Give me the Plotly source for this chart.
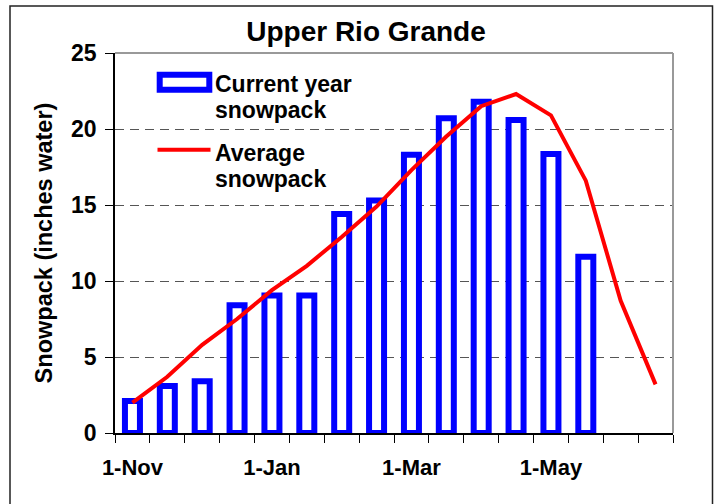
import plotly.graph_objects as go

# ---- data ----
dates = ["1-Nov", "15-Nov", "1-Dec", "15-Dec", "1-Jan", "15-Jan", "1-Feb", "15-Feb",
         "1-Mar", "15-Mar", "1-Apr", "15-Apr", "1-May", "15-May", "1-Jun", "15-Jun"]
current_year = [2.1, 3.1, 3.4, 8.4, 9.05, 9.05, 14.4, 15.3, 18.3, 20.7, 21.8, 20.6, 18.35, 11.6]
average = [2.0, 3.7, 5.8, 7.5, 9.4, 11.0, 12.9, 14.9, 17.3, 19.5, 21.5, 22.3, 20.9, 16.6, 8.7, 3.2]
labeled_ticks = ["1-Nov", "1-Jan", "1-Mar", "1-May"]
y_ticks = [0, 5, 10, 15, 20, 25]

title_text = "Upper Rio Grande"
y_title = "Snowpack (inches water)"
legend_bar = ["Current year", "snowpack"]
legend_line = ["Average", "snowpack"]

# ---- geometry helpers (pixel -> paper) ----
W, H = 715, 504
L, R, T, B = 115, 673, 53, 433


def px(x):
    return (x - L) / (R - L)


def py(y):
    return (B - y) / (B - T)


FONT = "Liberation Sans, Arial, sans-serif"
BLUE = "#0000FF"
RED = "#FF0000"

xpos = list(range(len(dates)))

fig = go.Figure()
fig.add_trace(go.Bar(
    x=xpos[:len(current_year)], y=current_year, width=0.43,
    marker=dict(color="white", line=dict(color=BLUE, width=6)),
    name="Current year snowpack", showlegend=False,
))
fig.add_trace(go.Scatter(
    x=xpos, y=average, mode="lines",
    line=dict(color=RED, width=4),
    name="Average snowpack", showlegend=False,
))

shapes = []
# outer chart border
shapes.append(dict(type="rect", xref="paper", yref="paper",
                   x0=px(10), x1=px(712.5), y0=py(515), y1=py(6),
                   line=dict(color="#222", width=1.5), fillcolor="rgba(0,0,0,0)", layer="above"))
# top and right plot-area border (gray)
shapes.append(dict(type="line", xref="paper", yref="paper", x0=0, x1=1, y0=1, y1=1,
                   line=dict(color="#999999", width=2), layer="above"))
shapes.append(dict(type="line", xref="paper", yref="paper", x0=1, x1=1, y0=0, y1=1,
                   line=dict(color="#999999", width=2), layer="above"))
# legend background hiding gridline
shapes.append(dict(type="rect", xref="paper", yref="paper",
                   x0=px(116), x1=px(391), y0=py(198), y1=py(58),
                   line=dict(width=0), fillcolor="white", layer="between"))
# legend swatches
shapes.append(dict(type="rect", xref="paper", yref="paper",
                   x0=px(159.7), x1=px(209.3), y0=py(89.7), y1=py(74.7),
                   line=dict(color=BLUE, width=6), fillcolor="white", layer="above"))
shapes.append(dict(type="line", xref="paper", yref="paper",
                   x0=px(157.5), x1=px(210.5), y0=py(149.7), y1=py(149.7),
                   line=dict(color=RED, width=4), layer="above"))

annotations = []
for txt, yy in [(legend_bar[0], 84), (legend_bar[1], 110), (legend_line[0], 153), (legend_line[1], 178.5)]:
    annotations.append(dict(text=txt, xref="paper", yref="paper", x=px(213), y=py(yy),
                            xanchor="left", yanchor="middle", showarrow=False,
                            font=dict(family=FONT, size=23, color="black", weight="bold")))

fig.update_layout(
    width=W, height=H,
    margin=dict(l=L, r=W - R, t=T, b=H - B),
    paper_bgcolor="white", plot_bgcolor="white",
    title=dict(text=title_text, x=366 / W, xref="container", xanchor="center",
               y=1 - 31 / H, yref="container", yanchor="middle",
               font=dict(family=FONT, size=28, color="black", weight="bold")),
    shapes=shapes,
    annotations=annotations,
    showlegend=False,
)
fig.update_xaxes(
    range=[-0.5, len(dates) - 0.5],
    tickmode="array", tickvals=[dates.index(d) for d in labeled_ticks], ticktext=labeled_ticks,
    ticks="outside", ticklen=8, tickcolor="rgba(0,0,0,0)", ticklabelstandoff=6,
    tickfont=dict(family=FONT, size=22, color="black", weight="bold"),
    showline=True, linecolor="black", linewidth=1.5,
    showgrid=False, zeroline=False,
    minor=dict(tick0=-0.5, dtick=1, ticks="outside", ticklen=8, tickcolor="black", tickwidth=1, showgrid=False),
)
fig.update_yaxes(
    range=[0, 25], tickmode="array", tickvals=y_ticks,
    ticks="outside", ticklen=8, tickcolor="black", tickwidth=1,
    tickfont=dict(family=FONT, size=23, color="black", weight="bold"),
    ticklabelstandoff=4,
    showline=True, linecolor="black", linewidth=1.5,
    showgrid=True, gridcolor="#555555", gridwidth=1, griddash="9px,6px",
    zeroline=False,
    title=dict(text=y_title, font=dict(family=FONT, size=23.5, color="black", weight="bold"), standoff=12),
)

fig.write_html("out.html", config={"displayModeBar": False},
               post_script="document.body.style.margin='0';")
